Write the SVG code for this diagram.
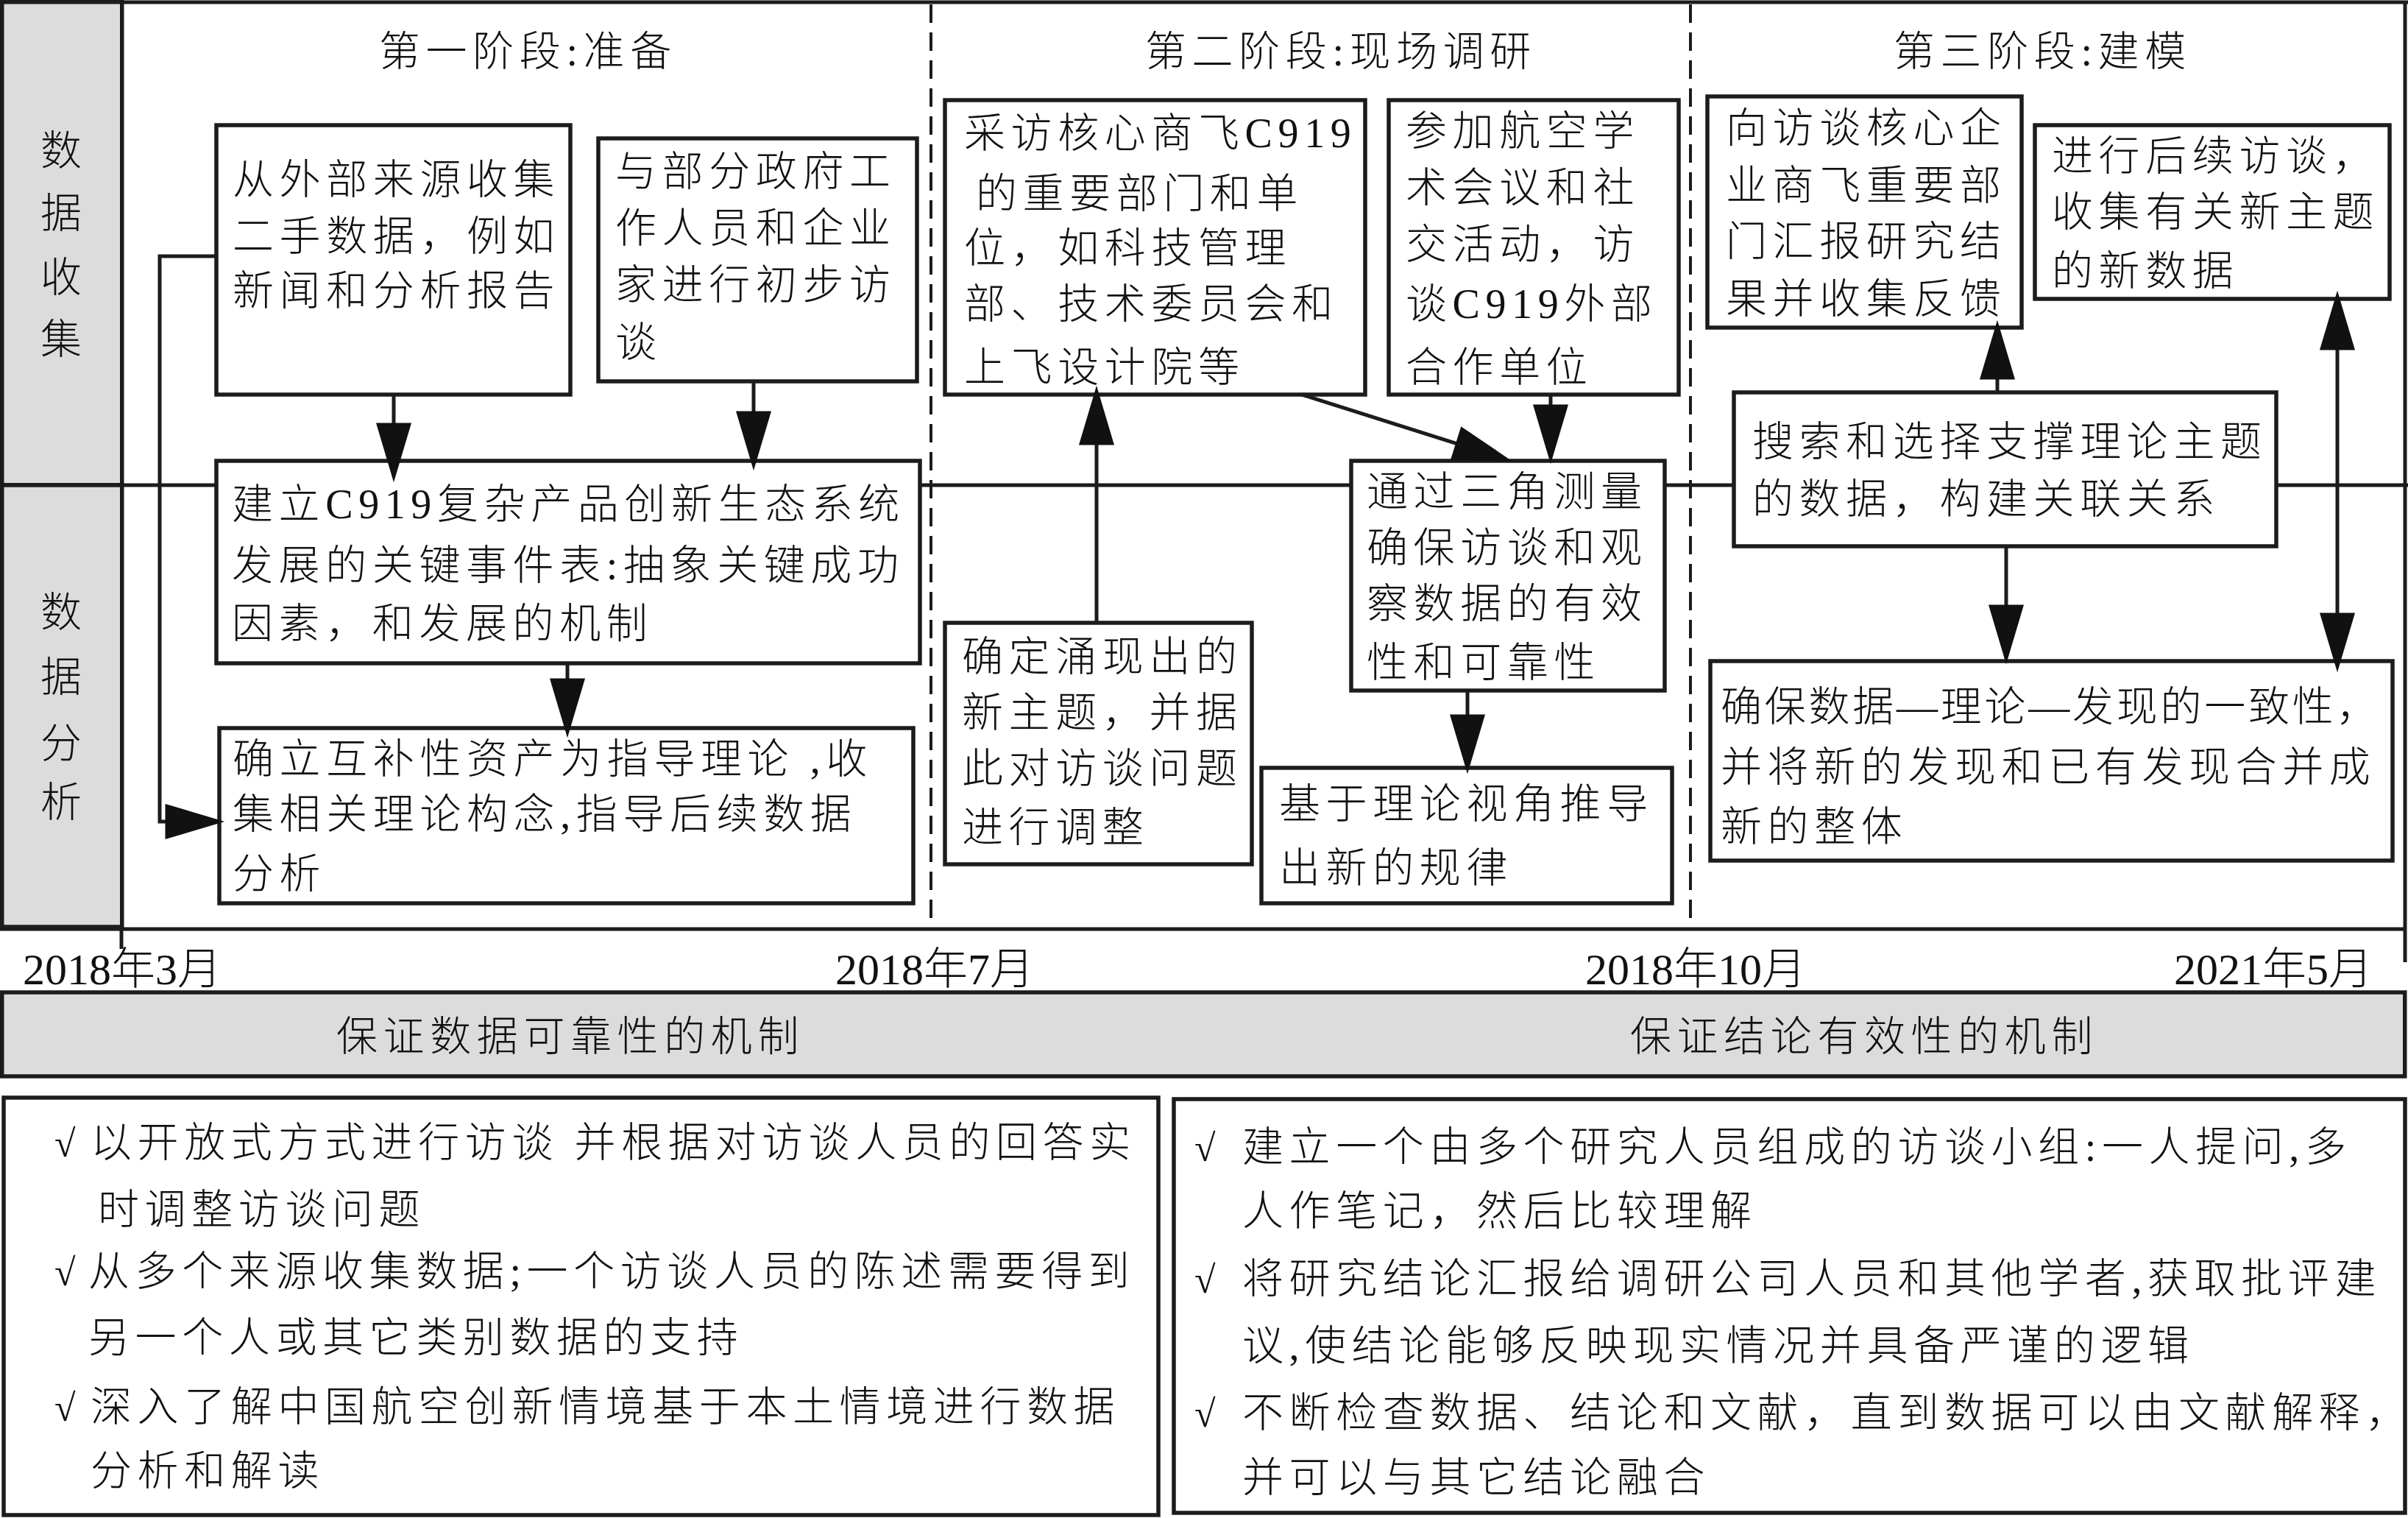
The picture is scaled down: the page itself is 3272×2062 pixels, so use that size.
<svg xmlns="http://www.w3.org/2000/svg" width="3272" height="2062" viewBox="0 0 3272 2062">
<style>
.box{fill:#fff;stroke:#1c1c1c;stroke-width:5.5}
.gray{fill:#dcdcdc;stroke:#1c1c1c;stroke-width:5.5}
.ln{stroke:#1c1c1c;stroke-width:5;fill:none}
.dash{stroke:#1c1c1c;stroke-width:4;stroke-dasharray:25 13;fill:none}
.conn{stroke:#1c1c1c;stroke-width:5;fill:none}
.t{font-family:"Liberation Serif","Noto Sans CJK SC",serif;font-size:56px;letter-spacing:7.6px;fill:#111;font-weight:300}
.v{font-family:"Liberation Serif","Noto Sans CJK SC",serif;font-size:56px;fill:#111;text-anchor:middle;font-weight:300}
.d{font-family:"Liberation Serif","Noto Sans CJK SC",serif;font-size:60px;fill:#111;font-weight:300}
.ck{font-family:"Liberation Serif","DejaVu Serif",serif;font-size:52px;fill:#111}
</style>
<defs>
<marker id="ah" markerUnits="userSpaceOnUse" markerWidth="80" markerHeight="50" refX="0" refY="22" orient="auto-start-reverse" overflow="visible">
<path d="M0,0 L74,22 L0,44 z" fill="#111" stroke="#111" stroke-width="3"/>
</marker>
</defs>
<rect x="0" y="0" width="3272" height="2062" fill="#fff"/>

<g id="frame">
<line class="ln" x1="0" y1="3" x2="3272" y2="3" stroke-width="6"/>
<line class="ln" x1="3268" y1="3" x2="3268" y2="1307"/>
<line class="ln" x1="0" y1="1262" x2="3270" y2="1262" stroke-width="6"/>
<line class="ln" x1="0" y1="659" x2="3272" y2="659"/>
<line class="dash" x1="1265" y1="6" x2="1265" y2="1262"/>
<line class="dash" x1="2297" y1="6" x2="2297" y2="1262"/>
<line class="ln" x1="165" y1="1262" x2="165" y2="1289"/>
</g>

<g id="lane-collect">
<rect class="gray" x="2.75" y="2.75" width="163" height="656"/>
<text class="v" x="83" y="224">数</text>
<text class="v" x="83" y="309">据</text>
<text class="v" x="83" y="396">收</text>
<text class="v" x="83" y="480">集</text>
</g>
<g id="lane-analysis">
<rect class="gray" x="2.75" y="659" width="163" height="600"/>
<text class="v" x="83" y="851">数</text>
<text class="v" x="83" y="939">据</text>
<text class="v" x="83" y="1029">分</text>
<text class="v" x="83" y="1109">析</text>
</g>

<g id="phase-titles">
<text class="t" x="515" y="89">第一阶段:准备</text>
<text class="t" x="1556" y="89">第二阶段:现场调研</text>
<text class="t" x="2573" y="89">第三阶段:建模</text>
</g>

<g id="nodeA">
<rect class="box" x="294" y="170" width="481" height="366"/>
<text class="t" x="316" y="263">从外部来源收集</text>
<text class="t" x="316" y="340">二手数据，例如</text>
<text class="t" x="316" y="414">新闻和分析报告</text>
</g>
<g id="nodeC">
<rect class="box" x="813" y="188" width="433" height="330"/>
<text class="t" x="836" y="252">与部分政府工</text>
<text class="t" x="836" y="329">作人员和企业</text>
<text class="t" x="836" y="406">家进行初步访</text>
<text class="t" x="836" y="484">谈</text>
</g>
<g id="nodeB">
<rect class="box" x="294" y="626" width="956" height="275"/>
<text class="t" x="315" y="704">建立C919复杂产品创新生态系统</text>
<text class="t" x="315" y="787">发展的关键事件表:抽象关键成功</text>
<text class="t" x="315" y="866">因素，和发展的机制</text>
</g>
<g id="nodeD">
<rect class="box" x="298" y="989" width="943" height="238"/>
<text class="t" x="316" y="1050">确立互补性资产为指导理论 ,收</text>
<text class="t" x="316" y="1125">集相关理论构念,指导后续数据</text>
<text class="t" x="316" y="1206">分析</text>
</g>
<g id="nodeE">
<rect class="box" x="1284" y="136" width="571" height="400"/>
<text class="t" x="1310" y="200">采访核心商飞C919</text>
<text class="t" x="1326" y="282">的重要部门和单</text>
<text class="t" x="1310" y="356">位，如科技管理</text>
<text class="t" x="1310" y="432">部、技术委员会和</text>
<text class="t" x="1310" y="518">上飞设计院等</text>
</g>
<g id="nodeF">
<rect class="box" x="1887" y="136" width="394" height="400"/>
<text class="t" x="1910" y="197">参加航空学</text>
<text class="t" x="1910" y="274">术会议和社</text>
<text class="t" x="1910" y="351">交活动，访</text>
<text class="t" x="1910" y="432">谈C919外部</text>
<text class="t" x="1910" y="518">合作单位</text>
</g>
<g id="nodeG">
<rect class="box" x="1836" y="626" width="426" height="312"/>
<text class="t" x="1857" y="687">通过三角测量</text>
<text class="t" x="1857" y="763">确保访谈和观</text>
<text class="t" x="1857" y="839">察数据的有效</text>
<text class="t" x="1857" y="919">性和可靠性</text>
</g>
<g id="nodeH">
<rect class="box" x="1284" y="846" width="417" height="328"/>
<text class="t" x="1307" y="911">确定涌现出的</text>
<text class="t" x="1307" y="987">新主题，并据</text>
<text class="t" x="1307" y="1063">此对访谈问题</text>
<text class="t" x="1307" y="1143">进行调整</text>
</g>
<g id="nodeI">
<rect class="box" x="1714" y="1043" width="558" height="184"/>
<text class="t" x="1738" y="1111">基于理论视角推导</text>
<text class="t" x="1738" y="1198">出新的规律</text>
</g>
<g id="nodeJ">
<rect class="box" x="2320" y="131" width="427" height="314"/>
<text class="t" x="2345" y="193">向访谈核心企</text>
<text class="t" x="2345" y="271">业商飞重要部</text>
<text class="t" x="2345" y="347">门汇报研究结</text>
<text class="t" x="2345" y="425">果并收集反馈</text>
</g>
<g id="nodeK">
<rect class="box" x="2765" y="170" width="482" height="236"/>
<text class="t" x="2788" y="231">进行后续访谈，</text>
<text class="t" x="2788" y="307">收集有关新主题</text>
<text class="t" x="2788" y="387">的新数据</text>
</g>
<g id="nodeL">
<rect class="box" x="2356" y="533" width="737" height="209"/>
<text class="t" x="2381" y="619">搜索和选择支撑理论主题</text>
<text class="t" x="2381" y="697">的数据，构建关联关系</text>
</g>
<g id="nodeM">
<rect class="box" x="2324" y="898" width="927" height="271"/>
<text class="t" x="2338" y="979" textLength="900" lengthAdjust="spacing">确保数据—理论—发现的一致性，</text>
<text class="t" x="2338" y="1061">并将新的发现和已有发现合并成</text>
<text class="t" x="2338" y="1142">新的整体</text>
</g>

<g id="connectors">
<path class="conn" d="M535,536 V576" marker-end="url(#ah)"/>
<path class="conn" d="M1024,518 V560" marker-end="url(#ah)"/>
<path class="conn" d="M294,348 H217 V1116 H226" marker-end="url(#ah)"/>
<path class="conn" d="M771,901 V923" marker-end="url(#ah)"/>
<path class="conn" d="M1490,846 V603" marker-end="url(#ah)"/>
<path class="conn" d="M1769,536 L1979.5,602.7" marker-end="url(#ah)"/>
<path class="conn" d="M2107,536 V551" marker-end="url(#ah)"/>
<path class="conn" d="M1994,938 V972" marker-end="url(#ah)"/>
<path class="conn" d="M2714,533 V514" marker-end="url(#ah)"/>
<path class="conn" d="M2726,742 V823" marker-end="url(#ah)"/>
<path class="conn" d="M3176,406 V474"/>
<path class="conn" d="M3176,474 V834" marker-start="url(#ah)" marker-end="url(#ah)"/>
</g>

<g id="timeline">
<text class="d" x="31" y="1337">2018年3月</text>
<text class="d" x="1135" y="1337">2018年7月</text>
<text class="d" x="2154" y="1337">2018年10月</text>
<text class="d" x="2954" y="1337">2021年5月</text>
</g>

<g id="mechanism-bar">
<rect class="gray" x="2.75" y="1348" width="3265" height="114"/>
<text class="t" x="457" y="1427">保证数据可靠性的机制</text>
<text class="t" x="2215" y="1427">保证结论有效性的机制</text>
</g>

<g id="reliability">
<rect class="box" x="5" y="1491" width="1569" height="567"/>
<text class="ck" x="74" y="1571">√</text>
<text class="t" x="123" y="1571">以开放式方式进行访谈 并根据对访谈人员的回答实</text>
<text class="t" x="133" y="1662">时调整访谈问题</text>
<text class="ck" x="74" y="1746">√</text>
<text class="t" x="120" y="1746">从多个来源收集数据;一个访谈人员的陈述需要得到</text>
<text class="t" x="120" y="1836">另一个人或其它类别数据的支持</text>
<text class="ck" x="74" y="1930">√</text>
<text class="t" x="123" y="1930">深入了解中国航空创新情境基于本土情境进行数据</text>
<text class="t" x="123" y="2017">分析和解读</text>
</g>

<g id="validity">
<rect class="box" x="1595" y="1493" width="1673" height="562"/>
<text class="ck" x="1623" y="1577">√</text>
<text class="t" x="1688" y="1577">建立一个由多个研究人员组成的访谈小组:一人提问,多</text>
<text class="t" x="1688" y="1664">人作笔记，然后比较理解</text>
<text class="ck" x="1623" y="1756">√</text>
<text class="t" x="1688" y="1756">将研究结论汇报给调研公司人员和其他学者,获取批评建</text>
<text class="t" x="1688" y="1847">议,使结论能够反映现实情况并具备严谨的逻辑</text>
<text class="ck" x="1623" y="1938">√</text>
<text class="t" x="1688" y="1938">不断检查数据、结论和文献，直到数据可以由文献解释，</text>
<text class="t" x="1688" y="2026">并可以与其它结论融合</text>
</g>
</svg>
